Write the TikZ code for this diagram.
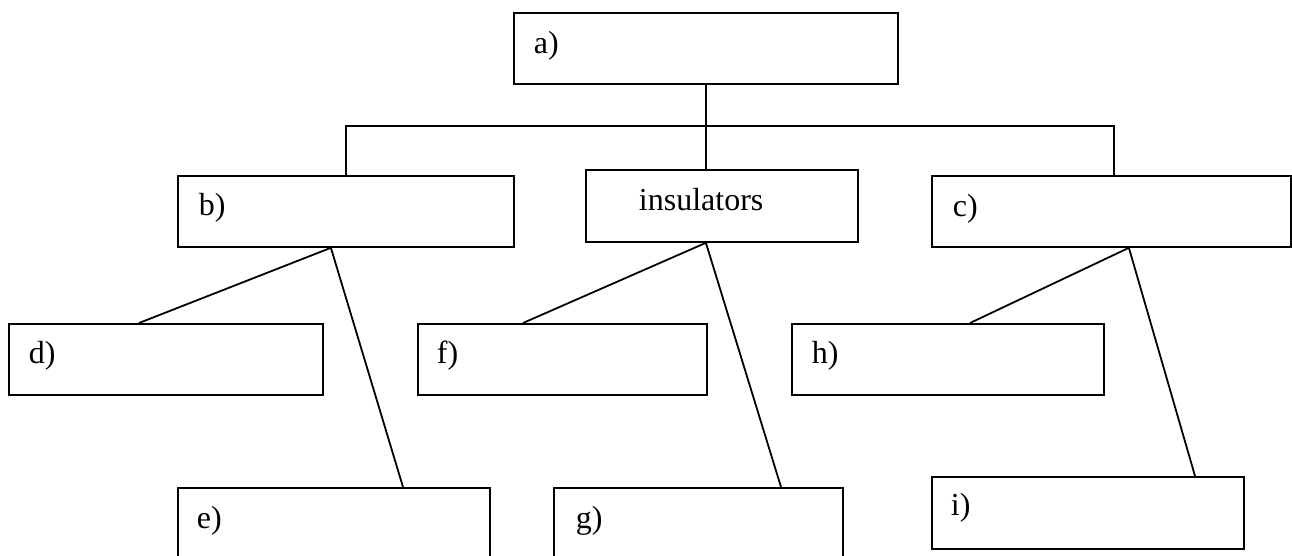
\documentclass[tikz,border=0pt]{standalone}
\usepackage{fontspec}
\setmainfont{Liberation Serif}
\usetikzlibrary{calc}
\begin{document}
\begin{tikzpicture}[x=1pt,y=-1pt,
  line width=1.8pt,
  box/.style={draw=black, rectangle, anchor=north west, inner sep=0pt},
  lbl/.style={anchor=base west, inner sep=0pt, font=\fontsize{32}{38}\selectfont},
  link/.style={draw=black, line width=1.8pt}]
\clip (0,0) rectangle (1292,555);
\fill[white] (0,0) rectangle (1292,555);

% boxes
\node[box, minimum width=384pt, minimum height=71pt] (a) at (513,12) {};
\node[box, minimum width=336pt, minimum height=71pt] (b) at (177,175) {};
\node[box, minimum width=272pt, minimum height=72pt] (ins) at (585,169) {};
\node[box, minimum width=359pt, minimum height=71pt] (c) at (931,175) {};
\node[box, minimum width=314pt, minimum height=71pt] (d) at (8,323) {};
\node[box, minimum width=289pt, minimum height=71pt] (f) at (417,323) {};
\node[box, minimum width=312pt, minimum height=71pt] (h) at (791,323) {};
\node[box, minimum width=312pt, minimum height=85pt] (e) at (177,487) {};
\node[box, minimum width=289pt, minimum height=85pt] (g) at (553,487) {};
\node[box, minimum width=312pt, minimum height=72pt] (i) at (931,476) {};

% labels
\node[lbl] (ta) at ($(a.north west)+(20,41)$) {a)};
\node[lbl] (tb) at ($(b.north west)+(21,40)$) {b)};
\node[lbl] (tins) at ($(ins.north west)+(53,41)$) {insulators};
\node[lbl] (tc) at ($(c.north west)+(21,41)$) {c)};
\node[lbl] (td) at ($(d.north west)+(20,40)$) {d)};
\node[lbl] (te) at ($(e.north west)+(19,41)$) {e)};
\node[lbl] (tf) at ($(f.north west)+(19,40)$) {f)};
\node[lbl] (tg) at ($(g.north west)+(22,41)$) {g)};
\node[lbl] (th) at ($(h.north west)+(20,40)$) {h)};
\node[lbl] (ti) at ($(i.north west)+(19,39)$) {i)};

% top level: trunk and bus
\coordinate (bus) at (705,126);
\draw[link] (a.south) -- (a.south |- ins.north);
\draw[link] (b.north) |- (bus) -| ([xshift=2.5pt]c.north);

% branches to the lower boxes
\draw[link] ([xshift=131pt]d.north west) -- ([xshift=-15pt]b.south) -- ([xshift=226pt]e.north west);
\draw[link] ([xshift=106pt]f.north west) -- ([xshift=-16pt]ins.south) -- ([xshift=228pt]g.north west);
\draw[link] ([xshift=179pt]h.north west) -- ([xshift=17.5pt]c.south) -- ([xshift=264pt]i.north west);
\end{tikzpicture}
\end{document}
